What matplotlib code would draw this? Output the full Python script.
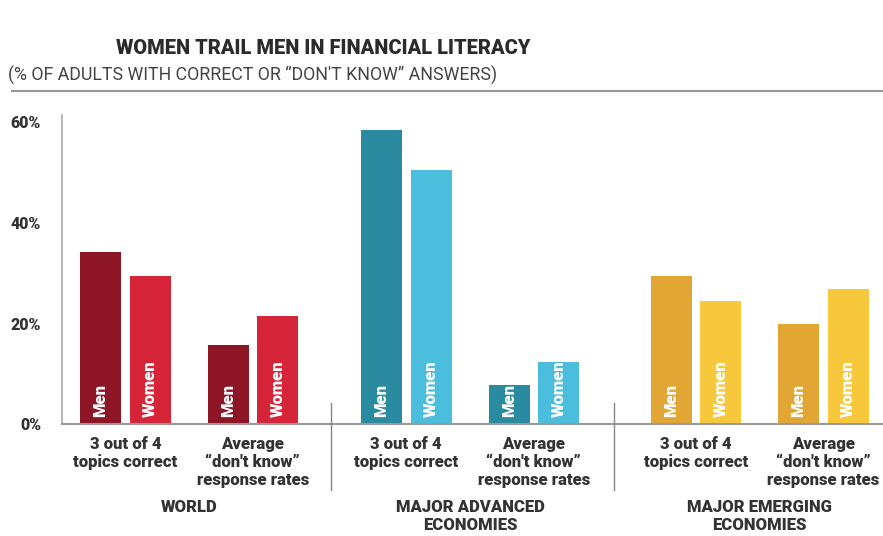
import matplotlib
matplotlib.use("Agg")
import matplotlib.pyplot as plt
from matplotlib.lines import Line2D

plt.rcParams['font.family'] = ['Roboto', 'DejaVu Sans']

# ---- data ----
groups = ["WORLD", "MAJOR ADVANCED\nECONOMIES", "MAJOR EMERGING\nECONOMIES"]
measures = ["3 out of 4\ntopics correct", "Average\n\u201cdon't know\u201d\nresponse rates"]
genders = ["Men", "Women"]
# values[group][measure] = (men, women)
world_vals = [[34.0, 29.3], [15.6, 21.4]]
advanced_vals = [[58.2, 50.3], [7.7, 12.3]]
emerging_vals = [[29.3, 24.4], [19.8, 26.7]]
values = [world_vals, advanced_vals, emerging_vals]
yticks = [0, 20, 40, 60]
ytick_labels = ["0%", "20%", "40%", "60%"]

colors = [("#8C1526", "#D62439"), ("#2A8BA0", "#4CBEDD"), ("#E2A634", "#F7C73C")]

W, H = 883, 536
fig = plt.figure(figsize=(W / 100, H / 100), dpi=100)
fig.patch.set_facecolor("white")

ax_left, ax_right, ax_top, ax_bot = 62, 883, 115, 424
ax = fig.add_axes([ax_left / W, 1 - ax_bot / H, (ax_right - ax_left) / W, (ax_bot - ax_top) / H])
ax.set_xlim(ax_left, ax_right)
ax.set_ylim(0, 61.2)

# layout (pixel-like x units)
first_center = 100.5
gender_step = 49.5
pair_step = 127.5
group_offsets = [0, 281, 570.5]
bar_w = 41

for g, gvals in enumerate(values):
    for m, mvals in enumerate(gvals):
        for s, v in enumerate(mvals):
            xc = first_center + group_offsets[g] + m * pair_step + s * gender_step
            ax.bar(xc, v, width=bar_w, color=colors[g][s], linewidth=0)
            ax.text(xc, 1.4, genders[s], rotation=90, ha="center", va="bottom",
                    color="white", fontsize=12, fontweight=900)
        pc = first_center + group_offsets[g] + m * pair_step + gender_step / 2
        fig.text(pc / W, 1 - 436 / H, measures[m], ha="center", va="top",
                 fontsize=12, fontweight=900, color="#333333", linespacing=1.15)
    gc = first_center + group_offsets[g] + (pair_step + gender_step) / 2
    fig.text(gc / W, 1 - 499 / H, groups[g], ha="center", va="top",
             fontsize=12, fontweight=900, color="#333333", linespacing=1.15)

for s in ["top", "right"]:
    ax.spines[s].set_visible(False)
ax.spines["left"].set_color("#aaaaaa")
ax.spines["bottom"].set_color("#999999")
ax.spines["left"].set_linewidth(1.2)
ax.spines["bottom"].set_linewidth(1.5)
ax.set_xticks([])
ax.set_yticks(yticks)
ax.set_yticklabels(ytick_labels, fontsize=11.5, fontweight=900, color="#333333")
ax.tick_params(axis="y", length=0, pad=15)

# separators between groups
for xs in [331, 614]:
    fig.add_artist(Line2D([xs / W, xs / W], [1 - 403 / H, 1 - 490 / H], color="#888888", lw=1))

# title, subtitle, rule
fig.text(323 / W, 1 - 48 / H, "WOMEN TRAIL MEN IN FINANCIAL LITERACY", ha="center", va="center",
         fontsize=14.4, fontweight=900, color="#2b2b2b")
fig.text(8 / W, 1 - 75 / H, "(% OF ADULTS WITH CORRECT OR \u201cDON'T KNOW\u201d ANSWERS)", ha="left",
         va="center", fontsize=12.8, color="#444444")
fig.add_artist(Line2D([12 / W, 1.0], [1 - 91 / H, 1 - 91 / H], color="#999999", lw=1.5))

fig.savefig("out.png", dpi=100, facecolor="white")
